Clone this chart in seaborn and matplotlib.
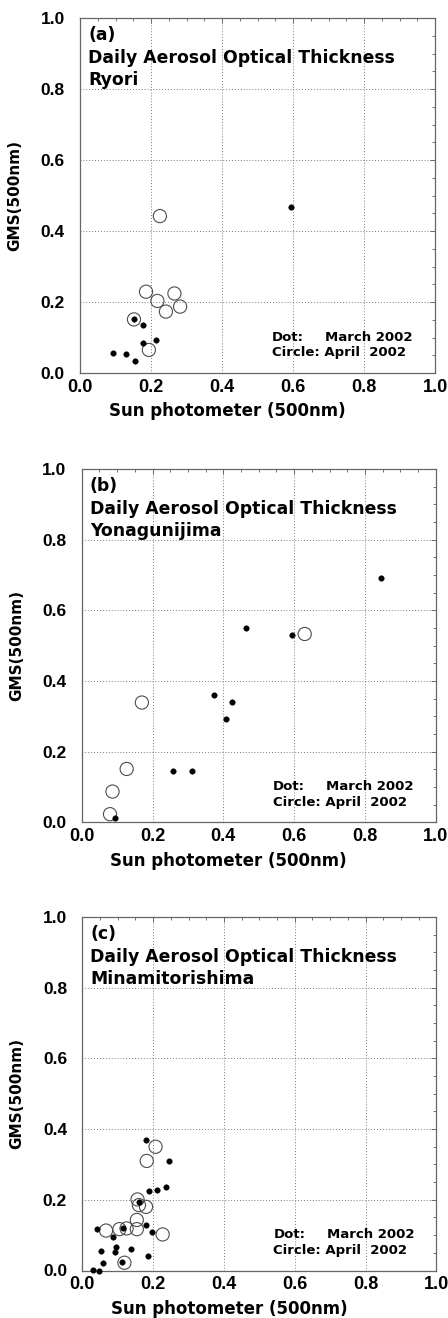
import matplotlib
matplotlib.use("Agg")
import matplotlib.pyplot as plt
import seaborn as sns
import pandas as pd
import numpy as np
from matplotlib.ticker import MultipleLocator

# ---- data ----
panel_tags = ["(a)", "(b)", "(c)"]
stations = ["Ryori", "Yonagunijima", "Minamitorishima"]

a_mar_x = [0.594, 0.152, 0.178, 0.177, 0.213, 0.092, 0.130, 0.155]
a_mar_y = [0.468, 0.153, 0.135, 0.084, 0.092, 0.057, 0.054, 0.034]
a_apr_x = [0.225, 0.186, 0.218, 0.266, 0.242, 0.282, 0.152, 0.194]
a_apr_y = [0.442, 0.229, 0.203, 0.224, 0.173, 0.187, 0.151, 0.065]

b_mar_x = [0.846, 0.464, 0.593, 0.374, 0.425, 0.407, 0.257, 0.312, 0.094]
b_mar_y = [0.691, 0.550, 0.530, 0.360, 0.340, 0.291, 0.145, 0.145, 0.011]
b_apr_x = [0.630, 0.170, 0.127, 0.087, 0.080]
b_apr_y = [0.533, 0.339, 0.151, 0.087, 0.023]

c_mar_x = [0.180, 0.246, 0.236, 0.212, 0.189, 0.159, 0.180, 0.196, 0.116, 0.041,
           0.086, 0.054, 0.094, 0.092, 0.138, 0.185, 0.059, 0.111, 0.031, 0.047]
c_mar_y = [0.370, 0.311, 0.236, 0.227, 0.224, 0.193, 0.129, 0.109, 0.119, 0.118,
           0.094, 0.056, 0.066, 0.053, 0.062, 0.041, 0.020, 0.025, 0.001, 0.000]
c_apr_x = [0.207, 0.182, 0.156, 0.160, 0.180, 0.154, 0.154, 0.125, 0.105, 0.067, 0.227, 0.119]
c_apr_y = [0.350, 0.310, 0.201, 0.185, 0.180, 0.143, 0.117, 0.119, 0.117, 0.113, 0.102, 0.022]

tick_vals = [0.0, 0.2, 0.4, 0.6, 0.8, 1.0]
tick_labels = ["0.0", "0.2", "0.4", "0.6", "0.8", "1.0"]
xlabel = "Sun photometer (500nm)"
ylabel = "GMS(500nm)"
title_line = "Daily Aerosol Optical Thickness"

panels = [
    (a_mar_x, a_mar_y, a_apr_x, a_apr_y),
    (b_mar_x, b_mar_y, b_apr_x, b_apr_y),
    (c_mar_x, c_mar_y, c_apr_x, c_apr_y),
]

sns.set_style("white")
plt.rcParams["font.family"] = ["Liberation Sans", "DejaVu Sans"]
plt.rcParams["text.color"] = "black"
plt.rcParams["axes.labelcolor"] = "black"
plt.rcParams["xtick.color"] = "black"
plt.rcParams["ytick.color"] = "black"
TXT = ["DejaVu Sans"]

W, H = 448, 1318
fig = plt.figure(figsize=(W / 100, H / 100), dpi=100)

# axes boxes in pixels: left, top, width, height
boxes = [(80, 18, 355, 355), (81.7, 469, 354, 353.3), (82.3, 917, 354, 353.5)]

for (mx, my, ax_, ay_), (l, t, w, h), tag, st in zip(panels, boxes, panel_tags, stations):
    ax = fig.add_axes([l / W, (H - t - h) / H, w / W, h / H])
    dm = pd.DataFrame({"x": mx, "y": my})
    da = pd.DataFrame({"x": ax_, "y": ay_})
    sns.scatterplot(data=da, x="x", y="y", ax=ax, marker="o", s=90,
                    facecolor="none", edgecolor="0.3", linewidth=0.8,
                    clip_on=False, zorder=3)
    sns.scatterplot(data=dm, x="x", y="y", ax=ax, marker="o", s=16,
                    color="black", edgecolor="black", linewidth=0.3,
                    clip_on=False, zorder=4)
    ax.set_xlim(0, 1)
    ax.set_ylim(0, 1)
    ax.set_xticks(tick_vals)
    ax.set_xticklabels(tick_labels, fontsize=13, fontweight="bold")
    ax.set_yticks(tick_vals)
    ax.set_yticklabels(tick_labels, fontsize=12.5, fontweight="bold")
    ax.xaxis.set_minor_locator(MultipleLocator(0.05))
    ax.yaxis.set_minor_locator(MultipleLocator(0.05))
    ax.tick_params(which="both", direction="in", top=True, right=True,
                   color="0.35", width=0.6)
    ax.tick_params(which="major", length=3.5)
    ax.tick_params(which="minor", length=2.5)
    ax.tick_params(axis="x", which="major", pad=4)
    ax.tick_params(axis="y", which="major", pad=11)
    ax.grid(True, which="major", color="0.3", linestyle=(0, (1, 2.5)), linewidth=0.6)
    for sp in ax.spines.values():
        sp.set_color("0.4")
        sp.set_linewidth(0.9)
    ax.set_xlabel(xlabel, fontsize=12, fontweight="bold", family=TXT)
    ax.xaxis.set_label_coords(0.415, -0.083)
    ax.set_ylabel(ylabel, fontsize=11, fontweight="bold", family=TXT)
    ax.yaxis.set_label_coords(-0.163, 0.5)
    ax.text(0.023, 0.952, tag, transform=ax.transAxes, fontsize=12.4,
            fontweight="bold", va="center", ha="left", family=TXT)
    ax.text(0.023, 0.887, title_line, transform=ax.transAxes, fontsize=12.4,
            fontweight="bold", va="center", ha="left", family=TXT)
    ax.text(0.023, 0.825, st, transform=ax.transAxes, fontsize=12.4,
            fontweight="bold", va="center", ha="left", family=TXT)
    ax.text(0.54, 0.101, "Dot:", transform=ax.transAxes, fontsize=9.5,
            fontweight="bold", va="center", ha="left", family=TXT)
    ax.text(0.69, 0.101, "March 2002", transform=ax.transAxes, fontsize=9.5,
            fontweight="bold", va="center", ha="left", family=TXT)
    ax.text(0.54, 0.057, "Circle: April  2002", transform=ax.transAxes, fontsize=9.5,
            fontweight="bold", va="center", ha="left", family=TXT)

fig.savefig("out.png", dpi=100)
